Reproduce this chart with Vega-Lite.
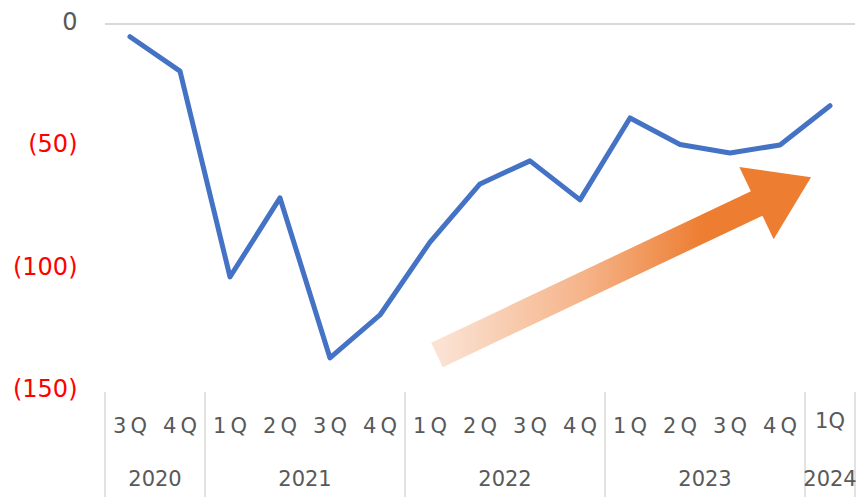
{
  "$schema": "https://vega.github.io/schema/vega-lite/v6.json",
  "width": 750,
  "height": 473,
  "autosize": "none",
  "padding": {"left": 105, "top": 24, "right": 3, "bottom": 0},
  "background": "white",
  "config": {"view": {"stroke": null}, "font": "DejaVu Sans"},
  "datasets": {
    "series": [
      {"idx": 0, "quarter": "3\u2009Q", "year": "2020", "value": -5.2},
      {"idx": 1, "quarter": "4\u2009Q", "year": "2020", "value": -19.2},
      {"idx": 2, "quarter": "1\u2009Q", "year": "2021", "value": -103.1},
      {"idx": 3, "quarter": "2\u2009Q", "year": "2021", "value": -70.9},
      {"idx": 4, "quarter": "3\u2009Q", "year": "2021", "value": -136.1},
      {"idx": 5, "quarter": "4\u2009Q", "year": "2021", "value": -118.6},
      {"idx": 6, "quarter": "1\u2009Q", "year": "2022", "value": -88.9},
      {"idx": 7, "quarter": "2\u2009Q", "year": "2022", "value": -65.2},
      {"idx": 8, "quarter": "3\u2009Q", "year": "2022", "value": -55.8},
      {"idx": 9, "quarter": "4\u2009Q", "year": "2022", "value": -71.7},
      {"idx": 10, "quarter": "1\u2009Q", "year": "2023", "value": -38.3},
      {"idx": 11, "quarter": "2\u2009Q", "year": "2023", "value": -49.1},
      {"idx": 12, "quarter": "3\u2009Q", "year": "2023", "value": -52.6},
      {"idx": 13, "quarter": "4\u2009Q", "year": "2023", "value": -49.3},
      {"idx": 14, "quarter": "1Q", "year": "2024", "value": -33.3}
    ],
    "bounds": [{"b": -0.5}, {"b": 1.5}, {"b": 5.5}, {"b": 9.5}, {"b": 13.5}, {"b": 14.5}],
    "arrow": [{"ax": 6.14, "ay": -134.9}, {"ax": 12.64, "ay": -72.1}],
    "head": [{"ax": 13.075, "ay": -67.7}]
  },
  "layer": [
    {
      "data": {"name": "series"},
      "mark": {"type": "rule", "color": "#D9D9D9", "strokeWidth": 2},
      "encoding": {
        "y": {"datum": 0, "type": "quantitative", "title": null, "scale": {"domain": [-192.8, 0], "nice": false, "zero": false}}
      }
    },
    {
      "data": {"name": "bounds"},
      "mark": {"type": "rule", "color": "#D9D9D9", "strokeWidth": 1.5},
      "encoding": {
        "x": {"field": "b", "type": "quantitative", "scale": {"domain": [-0.5, 14.5], "nice": false, "zero": false}, "axis": null},
        "y": {"datum": -150, "type": "quantitative", "title": null},
        "y2": {"datum": -192.8}
      }
    },
    {
      "data": {"name": "series"},
      "transform": [{"filter": "datum.year != '2024'"}],
      "mark": {"type": "text", "fontSize": 21, "color": "#595959", "baseline": "middle", "align": "center"},
      "encoding": {
        "x": {"field": "idx", "type": "quantitative", "axis": null},
        "y": {"datum": -164.3, "type": "quantitative", "title": null},
        "text": {"field": "quarter"}
      }
    },
    {
      "data": {"name": "series"},
      "transform": [{"filter": "datum.year == '2024'"}],
      "mark": {"type": "text", "fontSize": 21, "color": "#595959", "baseline": "middle", "align": "center"},
      "encoding": {
        "x": {"field": "idx", "type": "quantitative", "axis": null},
        "y": {"datum": -162.2, "type": "quantitative", "title": null},
        "text": {"field": "quarter"}
      }
    },
    {
      "data": {"name": "series"},
      "transform": [{"aggregate": [{"op": "mean", "field": "idx", "as": "mid"}], "groupby": ["year"]}],
      "mark": {"type": "text", "fontSize": 21, "color": "#595959", "baseline": "middle", "align": "center"},
      "encoding": {
        "x": {"field": "mid", "type": "quantitative", "axis": null},
        "y": {"datum": -185.9, "type": "quantitative", "title": null},
        "text": {"field": "year"}
      }
    },
    {
      "data": {"name": "arrow"},
      "mark": {
        "type": "line",
        "strokeWidth": 27,
        "strokeCap": "butt",
        "color": {
          "gradient": "linear",
          "x1": 0, "y1": 0, "x2": 1, "y2": 0,
          "stops": [
            {"offset": 0, "color": "#FBE3D4"},
            {"offset": 0.45, "color": "#F5B48A"},
            {"offset": 0.82, "color": "#ED7D31"},
            {"offset": 1, "color": "#ED7D31"}
          ]
        }
      },
      "encoding": {
        "x": {"field": "ax", "type": "quantitative", "axis": null},
        "y": {"field": "ay", "type": "quantitative", "title": null}
      }
    },
    {
      "data": {"name": "head"},
      "mark": {
        "type": "point",
        "shape": "M -0.755 -1 L 0.755 0 L -0.755 1 Z",
        "size": 6400,
        "angle": 334.6,
        "filled": true,
        "color": "#ED7D31",
        "opacity": 1,
        "strokeWidth": 0
      },
      "encoding": {
        "x": {"field": "ax", "type": "quantitative", "axis": null},
        "y": {"field": "ay", "type": "quantitative", "title": null}
      }
    },
    {
      "data": {"name": "series"},
      "mark": {"type": "line", "color": "#4472C4", "strokeWidth": 5, "strokeJoin": "round", "strokeCap": "round"},
      "encoding": {
        "x": {"field": "idx", "type": "quantitative", "axis": null},
        "y": {
          "field": "value",
          "type": "quantitative",
          "title": null,
          "axis": {
            "values": [0, -50, -100, -150],
            "title": null,
            "domain": false,
            "ticks": false,
            "grid": false,
            "labelPadding": 28,
            "labelFontSize": 24,
            "labelOffset": -2,
            "labelFont": "DejaVu Sans",
            "labelBaseline": "middle",
            "labelExpr": "datum.value == 0 ? '0\u2002' : '(' + format(-datum.value, ',') + ')'",
            "labelColor": {"condition": {"test": "datum.value == 0", "value": "#595959"}, "value": "#FF0000"}
          }
        }
      }
    }
  ]
}
